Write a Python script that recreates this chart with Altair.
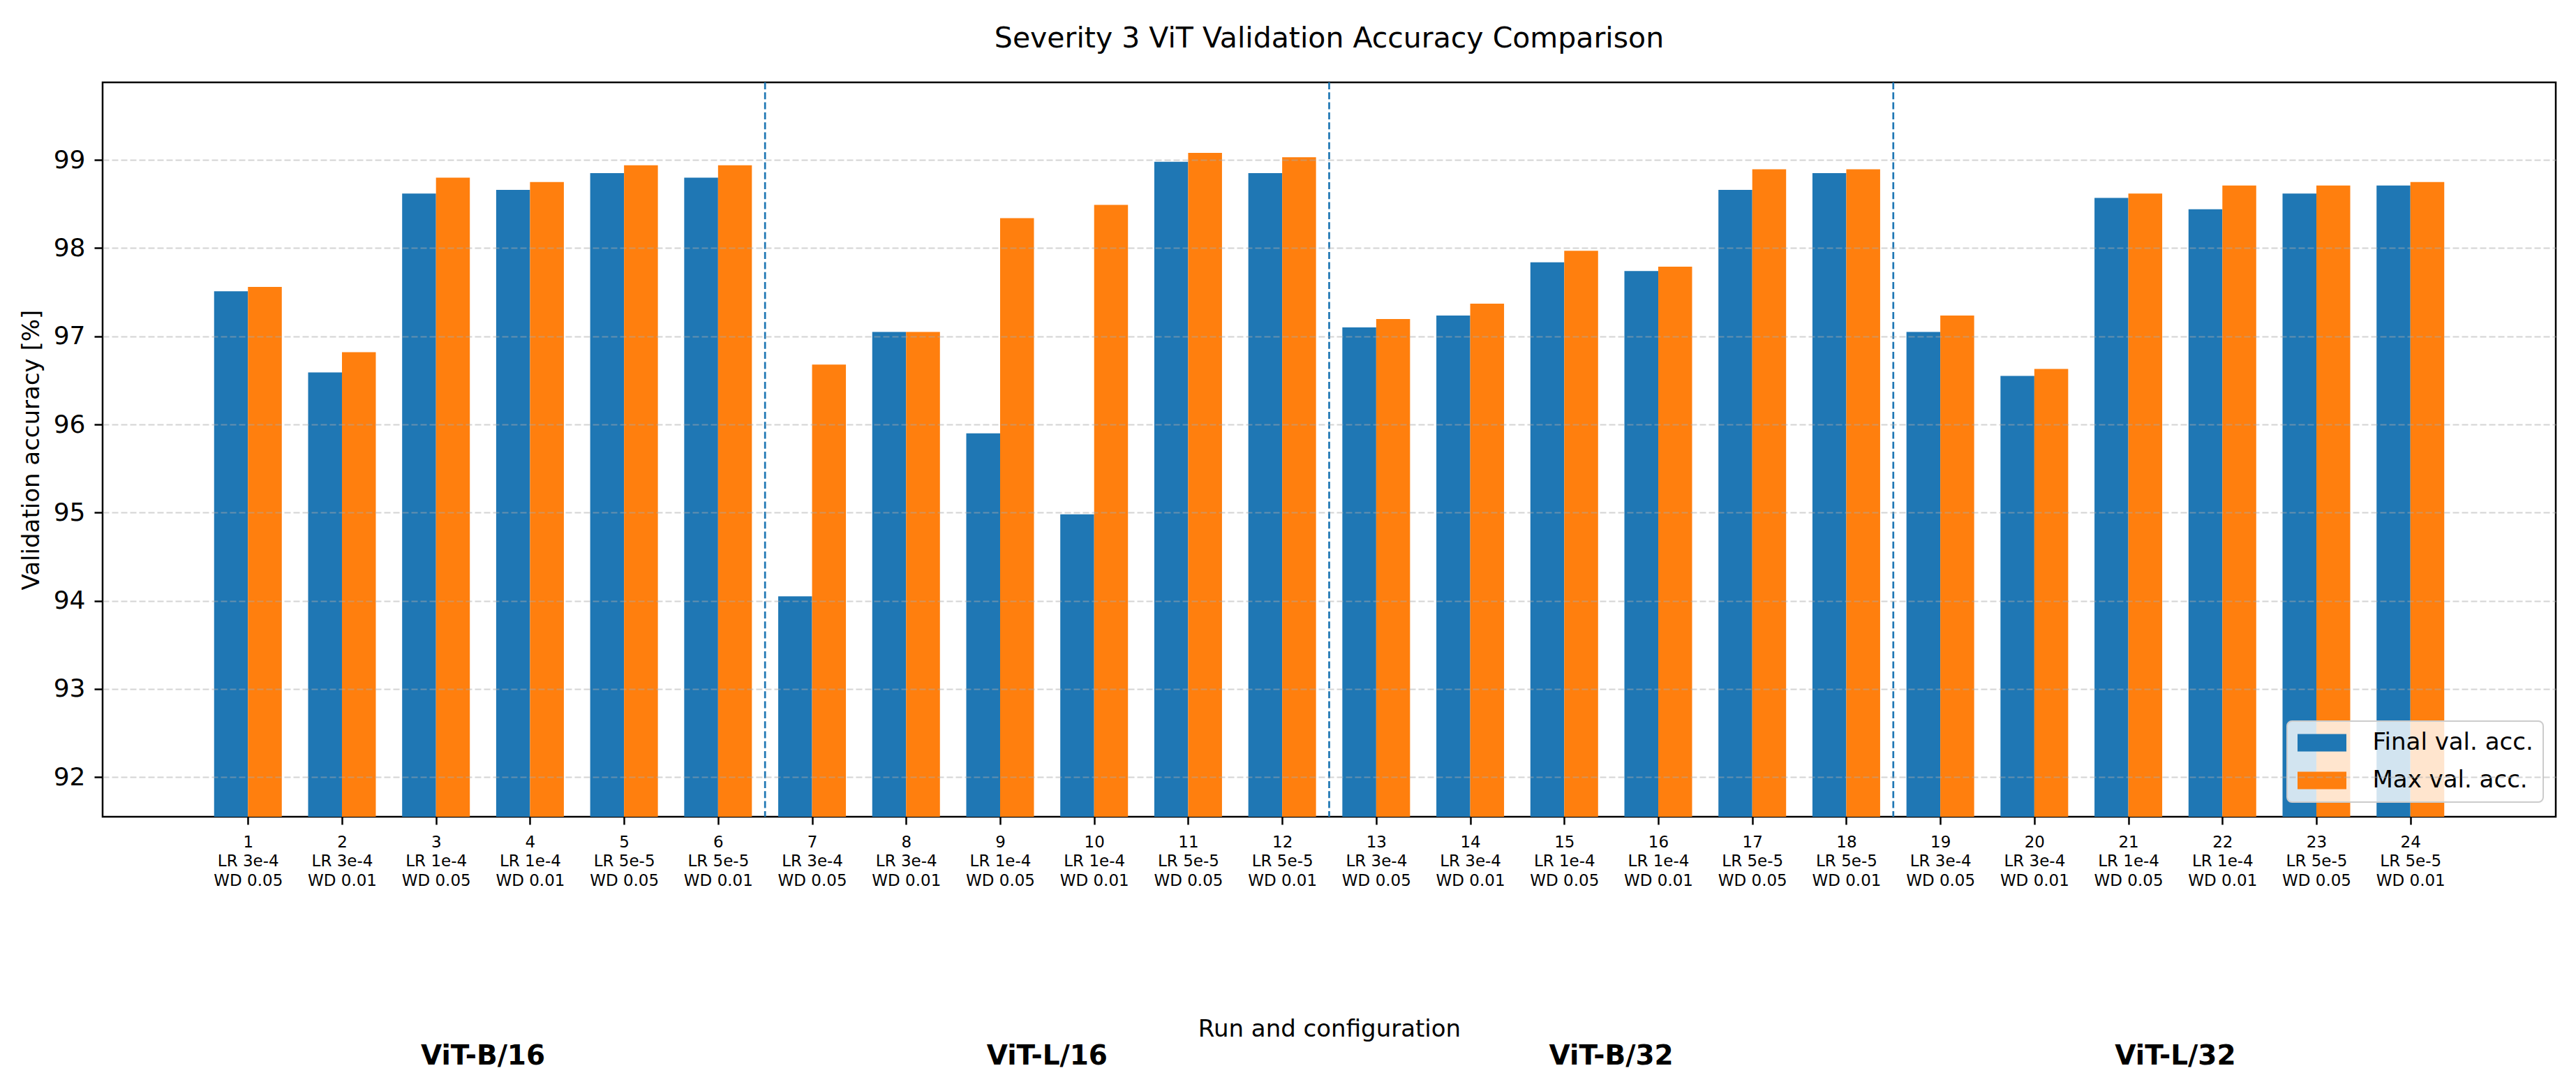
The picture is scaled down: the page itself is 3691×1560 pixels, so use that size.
import json
import altair as alt
import pandas as pd

# ---------------- data ----------------
run_labels = ["1", "2", "3", "4", "5", "6", "7", "8", "9", "10", "11", "12",
              "13", "14", "15", "16", "17", "18", "19", "20", "21", "22", "23", "24"]
lr_labels = ["LR 3e-4", "LR 3e-4", "LR 1e-4", "LR 1e-4", "LR 5e-5", "LR 5e-5",
             "LR 3e-4", "LR 3e-4", "LR 1e-4", "LR 1e-4", "LR 5e-5", "LR 5e-5",
             "LR 3e-4", "LR 3e-4", "LR 1e-4", "LR 1e-4", "LR 5e-5", "LR 5e-5",
             "LR 3e-4", "LR 3e-4", "LR 1e-4", "LR 1e-4", "LR 5e-5", "LR 5e-5"]
wd_labels = ["WD 0.05", "WD 0.01", "WD 0.05", "WD 0.01", "WD 0.05", "WD 0.01",
             "WD 0.05", "WD 0.01", "WD 0.05", "WD 0.01", "WD 0.05", "WD 0.01",
             "WD 0.05", "WD 0.01", "WD 0.05", "WD 0.01", "WD 0.05", "WD 0.01",
             "WD 0.05", "WD 0.01", "WD 0.05", "WD 0.01", "WD 0.05", "WD 0.01"]
final_acc = [97.51, 96.59, 98.62, 98.66, 98.85, 98.80,
             94.05, 97.05, 95.90, 94.98, 98.98, 98.85,
             97.10, 97.235, 97.84, 97.74, 98.66, 98.85,
             97.05, 96.55, 98.57, 98.44, 98.62, 98.71]
max_acc = [97.56, 96.82, 98.80, 98.75, 98.94, 98.94,
           96.68, 97.05, 98.34, 98.49, 99.08, 99.03,
           97.195, 97.37, 97.97, 97.79, 98.895, 98.895,
           97.235, 96.63, 98.62, 98.71, 98.71, 98.75]
series_names = ["Final val. acc.", "Max val. acc."]
series_colors = ["#1f77b4", "#ff7f0e"]
group_names = ["ViT-B/16", "ViT-L/16", "ViT-B/32", "ViT-L/32"]
group_centers = [2.5, 8.5, 14.5, 20.5]
separators = [5.5, 11.5, 17.5]
y_ticks = [92, 93, 94, 95, 96, 97, 98, 99]

BAR_W = 0.36
X_MIN, X_MAX = -1.546, 24.546
Y_MIN, Y_MAX = 91.55, 99.88

# ---------------- tables ----------------
rows = []
for i in range(len(run_labels)):
    rows.append({"idx": i, "series": series_names[0], "value": final_acc[i],
                 "x0": i - BAR_W, "x1": i})
    rows.append({"idx": i, "series": series_names[1], "value": max_acc[i],
                 "x0": i, "x1": i + BAR_W})
df = pd.DataFrame(rows)
sep_df = pd.DataFrame({"x0": separators})
grp_df = pd.DataFrame({"name": group_names, "x0": group_centers})

label_expr = "[{}[datum.value], {}[datum.value], {}[datum.value]]".format(
    json.dumps(run_labels), json.dumps(lr_labels), json.dumps(wd_labels))

FONT = "DejaVu Sans"
W, H = 3515, 1052

x_scale = alt.Scale(domain=[X_MIN, X_MAX], nice=False, zero=False)
y_scale = alt.Scale(domain=[Y_MIN, Y_MAX], nice=False, zero=False)

x_axis = alt.Axis(values=list(range(len(run_labels))), labelExpr=label_expr,
                  title="Run and configuration", titleFontSize=34,
                  titleFontWeight="normal", titleColor="black", titleFont=FONT,
                  titlePadding=184, labelFontSize=23, labelFont=FONT,
                  labelColor="black", labelLineHeight=27.5, labelPadding=14,
                  labelAngle=0, labelOverlap=False, labelFlush=False,
                  tickSize=11, tickWidth=2.5, tickColor="black",
                  domain=False, grid=False)

bars = alt.Chart(df).mark_rect().encode(
    x=alt.X("x0:Q", scale=x_scale, axis=x_axis, title="Run and configuration"),
    x2="x1:Q",
    y=alt.Y("value:Q", scale=y_scale,
            axis=alt.Axis(values=y_ticks, title="Validation accuracy [%]",
                          titleFontSize=34, titleFontWeight="normal", titleColor="black",
                          titleFont=FONT, titlePadding=14, labelFontSize=36, labelFont=FONT,
                          labelColor="black", labelPadding=13, tickSize=12, tickWidth=2.5,
                          tickColor="black", domain=False, grid=True, gridColor="#aaaaaa",
                          gridOpacity=0.5, gridWidth=2, gridDash=[9, 4], zindex=1)),
    y2=alt.datum(Y_MIN),
    color=alt.Color("series:N", scale=alt.Scale(domain=series_names, range=series_colors),
                    legend=alt.Legend(title=None, orient="none", legendX=3130, legendY=915,
                                      symbolType="M-2,-0.714L2,-0.714L2,0.714L-2,0.714Z",
                                      symbolSize=1225, symbolOffset=19, labelOffset=55,
                                      padding=13.5, rowPadding=19, labelFontSize=34,
                                      labelFont=FONT, labelColor="black", labelLimit=1000,
                                      fillColor="rgba(255,255,255,0.8)", strokeColor="#cccccc",
                                      cornerRadius=7, symbolStrokeWidth=0, symbolOpacity=1)),
)

seps = alt.Chart(sep_df).mark_rule(color="#1f77b4", strokeWidth=2.7,
                                   strokeDash=[10, 4.3]).encode(
    x=alt.X("x0:Q", scale=x_scale, axis=x_axis, title="Run and configuration"))

groups = alt.Chart(grp_df).mark_text(font=FONT, fontSize=39, fontWeight="bold",
                                     color="black", baseline="alphabetic",
                                     align="center").encode(
    x=alt.X("x0:Q", scale=x_scale, axis=x_axis, title="Run and configuration"),
    y=alt.value(1407),
    text="name:N")

chart = alt.layer(bars, seps, groups).properties(
    width=W, height=H,
    title=alt.TitleParams("Severity 3 ViT Validation Accuracy Comparison", fontSize=41,
                          fontWeight="normal", font=FONT, color="black", anchor="middle",
                          baseline="alphabetic", offset=8),
    autosize=alt.AutoSizeParams(type="none"),
    padding={"left": 147, "top": 118, "right": 29, "bottom": 390},
    background="white",
).configure(font=FONT).configure_view(stroke="black", strokeWidth=2.5).configure_legend(
    strokeWidth=2)

chart.save("out.html", embed_options={"renderer": "svg", "actions": False})
